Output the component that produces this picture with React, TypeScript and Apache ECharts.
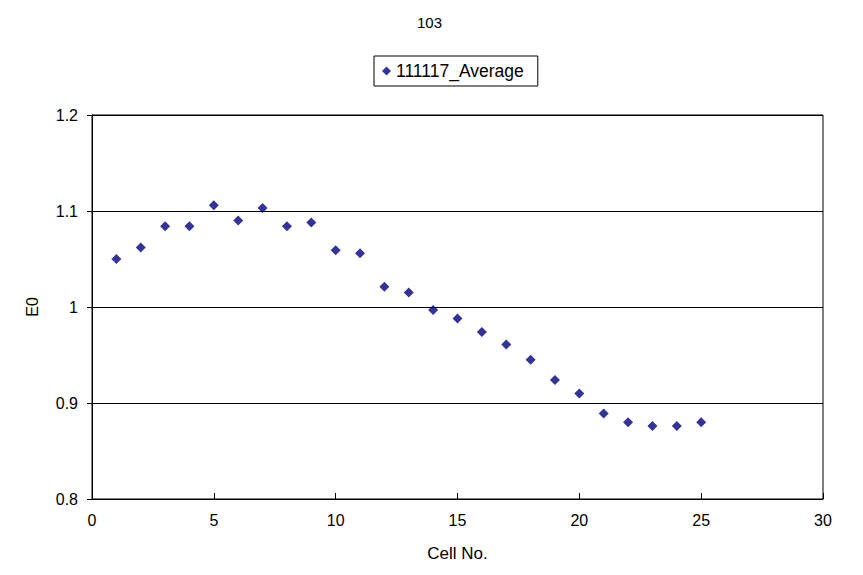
import React, { useEffect, useRef } from "react";
import * as echarts from "echarts";

const cellNo = [1, 2, 3, 4, 5, 6, 7, 8, 9, 10, 11, 12, 13, 14, 15, 16, 17, 18, 19, 20, 21, 22, 23, 24, 25];
const e0Values = [
  1.05, 1.062, 1.084, 1.084, 1.106, 1.09, 1.103, 1.084, 1.088, 1.059, 1.056, 1.021, 1.015,
  0.997, 0.988, 0.974, 0.961, 0.945, 0.924, 0.91, 0.889, 0.88, 0.876, 0.876, 0.88,
];
const seriesName = "111117_Average";
const chartTitle = "103";
const xAxisName = "Cell No.";
const yAxisName = "E0";

const FONT = "'Liberation Sans', Arial, sans-serif";

export default function App() {
  const ref = useRef<HTMLDivElement>(null);
  useEffect(() => {
    if (!ref.current) return;
    const chart = echarts.init(ref.current, null, { renderer: "svg" });
    chart.setOption({
      animation: false,
      backgroundColor: "#fff",
      textStyle: { fontFamily: FONT },
      title: {
        text: chartTitle,
        left: 412,
        top: 10,
        textStyle: { fontFamily: FONT, fontSize: 15, fontWeight: "normal", color: "#000" },
      },
      legend: {
        data: [{ name: seriesName, icon: "diamond" }],
        top: 56,
        left: 374,
        borderColor: "#000",
        borderWidth: 1,
        padding: [6, 14, 6, 8],
        itemWidth: 9,
        itemHeight: 9,
        itemGap: 4,
        textStyle: { fontFamily: FONT, fontSize: 17.5, color: "#000" },
      },
      grid: {
        left: 92,
        top: 115,
        width: 731,
        height: 384,
        show: true,
        borderColor: "#000",
        borderWidth: 1,
        backgroundColor: "transparent",
      },
      xAxis: {
        type: "value",
        min: 0,
        max: 30,
        interval: 5,
        name: xAxisName,
        nameLocation: "middle",
        nameGap: 46,
        nameTextStyle: { fontFamily: FONT, fontSize: 17, color: "#000" },
        axisLine: { lineStyle: { color: "#000", width: 1 } },
        axisTick: { show: true, inside: true, length: 6, lineStyle: { color: "#000" } },
        axisLabel: { fontFamily: FONT, fontSize: 16, color: "#000", margin: 13 },
        splitLine: { show: false },
      },
      yAxis: {
        type: "value",
        min: 0.8,
        max: 1.2,
        interval: 0.1,
        name: yAxisName,
        nameLocation: "middle",
        nameGap: 52,
        nameRotate: 90,
        nameTextStyle: { fontFamily: FONT, fontSize: 16, color: "#000" },
        axisLine: { lineStyle: { color: "#000", width: 1 } },
        axisTick: { show: true, inside: false, length: 5, lineStyle: { color: "#000" } },
        axisLabel: {
          fontFamily: FONT,
          fontSize: 16,
          color: "#000",
          margin: 14,
          formatter: (v: number) => String(Math.round(v * 10) / 10),
        },
        splitLine: { show: true, lineStyle: { color: "#000", width: 1 } },
      },
      series: [
        {
          name: seriesName,
          type: "scatter",
          symbol: "diamond",
          symbolSize: 10,
          itemStyle: { color: "#000080" },
          data: cellNo.map((c, i) => [c, e0Values[i]]),
        },
      ],
    });
    return () => chart.dispose();
  }, []);
  return (
    <div
      ref={ref}
      style={{ position: "fixed", left: 0, top: 0, width: 863, height: 575, background: "#fff" }}
    />
  );
}
